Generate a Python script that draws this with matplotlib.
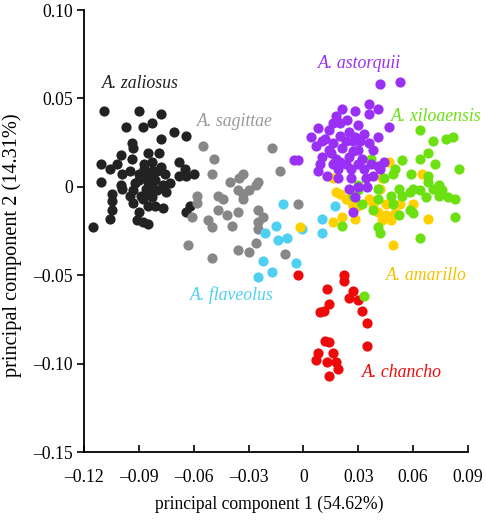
import matplotlib
matplotlib.use("Agg")
import matplotlib.pyplot as plt
from matplotlib.ticker import FixedLocator

plt.rcParams['font.family'] = ['Liberation Serif', 'DejaVu Serif']

# ---- data (PC1, PC2) per species ----
zaliosus_x = [-0.109, -0.090, -0.078, -0.097, -0.088, -0.083, -0.071, -0.064, -0.078, -0.094,
              -0.093, -0.100, -0.085, -0.079, -0.094, -0.068, -0.111, -0.102, -0.106, -0.087,
              -0.083, -0.088, -0.083, -0.080, -0.099, -0.090, -0.076, -0.065, -0.068, -0.060,
              -0.064, -0.111, -0.092, -0.085, -0.081, -0.073, -0.077, -0.083, -0.100, -0.086,
              -0.093, -0.075, -0.080, -0.105, -0.095, -0.089, -0.083, -0.088, -0.105, -0.093,
              -0.081, -0.077, -0.085, -0.105, -0.090, -0.062, -0.064, -0.106, -0.091, -0.085,
              -0.088, -0.115, -0.087, -0.084, -0.090, -0.078, -0.095, -0.085, -0.099]
zaliosus_y = [0.043, 0.043, 0.041, 0.034, 0.034, 0.036, 0.031, 0.029, 0.027, 0.025,
              0.022, 0.018, 0.019, 0.019, 0.016, 0.014, 0.013, 0.013, 0.010, 0.013,
              0.014, 0.007, 0.009, 0.009, 0.007, 0.007, 0.007, 0.010, 0.006, 0.007,
              0.006, 0.003, 0.002, 0.003, 0.004, 0.002, 0.001, 0.000, 0.001, -0.001,
              -0.002, -0.003, -0.002, -0.004, -0.005, -0.005, -0.006, -0.007, -0.008, -0.009,
              -0.011, -0.012, -0.011, -0.013, -0.014, -0.011, -0.014, -0.018, -0.019, -0.021,
              -0.020, -0.023, 0.010, 0.005, 0.004, 0.011, 0.009, -0.003, -0.001]

sagittae_x = [-0.055, -0.017, -0.049, -0.013, -0.050, -0.033, -0.035, -0.040, -0.025, -0.026,
              -0.036, -0.030, -0.033, -0.047, -0.058, -0.044, -0.058, -0.033, -0.047, -0.036,
              -0.025, -0.061, -0.042, -0.022, -0.052, -0.025, -0.039, -0.050, -0.025, -0.026,
              -0.063, -0.036, -0.030, -0.050, -0.003, -0.010]
sagittae_y = [0.023, 0.022, 0.016, 0.009, 0.007, 0.007, 0.005, 0.003, 0.003, 0.001,
              -0.002, -0.002, -0.004, -0.005, -0.005, -0.007, -0.009, -0.007, -0.013, -0.014,
              -0.013, -0.017, -0.016, -0.017, -0.019, -0.020, -0.022, -0.023, -0.024, -0.032,
              -0.033, -0.036, -0.037, -0.040, -0.010, -0.038]

flaveolus_x = [-0.011, -0.015, -0.021, -0.014, -0.009, -0.001, -0.022, -0.017, -0.025, -0.004,
               0.010, 0.017, 0.010]
flaveolus_y = [-0.010, -0.022, -0.026, -0.030, -0.029, -0.024, -0.042, -0.048, -0.051, -0.043,
               -0.018, -0.011, -0.026]

chancho_x = [-0.003, 0.022, 0.022, 0.013, 0.027, 0.025, 0.030, 0.014, 0.032, 0.011,
             0.009, 0.035, 0.012, 0.014, 0.035, 0.008, 0.016, 0.007, 0.013, 0.018,
             0.019, 0.014]
chancho_y = [-0.050, -0.050, -0.053, -0.058, -0.059, -0.063, -0.064, -0.066, -0.070, -0.070,
             -0.071, -0.077, -0.087, -0.088, -0.090, -0.094, -0.094, -0.098, -0.099, -0.099,
             -0.103, -0.107]

amarillo_x = [0.047, 0.016, 0.018, 0.020, 0.023, 0.026, 0.036, 0.038, 0.027, 0.045,
              0.053, 0.041, 0.045, 0.043, 0.048, 0.050, 0.060, 0.065, 0.068, 0.016,
              0.021, 0.028, 0.043, 0.042, -0.002, 0.049, 0.030]
amarillo_y = [0.014, 0.005, -0.003, -0.004, -0.007, -0.008, -0.007, -0.010, -0.011, -0.010,
              -0.010, -0.014, -0.016, -0.019, -0.019, -0.015, -0.010, 0.007, -0.018, -0.020,
              -0.017, -0.018, 0.005, -0.001, -0.023, -0.033, -0.011]

xiloaensis_x = [0.064, 0.071, 0.078, 0.082, 0.054, 0.068, 0.064, 0.072, 0.085, 0.050,
                0.049, 0.059, 0.068, 0.068, 0.044, 0.041, 0.052, 0.058, 0.060, 0.064,
                0.071, 0.074, 0.076, 0.048, 0.054, 0.067, 0.074, 0.079, 0.083, 0.041,
                0.049, 0.058, 0.060, 0.052, 0.083, 0.032, 0.021, 0.041, 0.042, 0.064,
                0.030, 0.030, 0.027, 0.038, 0.037, 0.033]
xiloaensis_y = [0.032, 0.026, 0.027, 0.028, 0.015, 0.019, 0.016, 0.013, 0.010, 0.010,
                0.007, 0.007, 0.006, 0.003, 0.005, -0.001, -0.001, -0.003, -0.001, -0.002,
                -0.001, 0.001, -0.002, -0.005, -0.005, -0.006, -0.005, -0.006, -0.007, -0.007,
                -0.010, -0.013, -0.015, -0.016, -0.017, -0.010, -0.022, -0.023, -0.026, -0.029,
                -0.002, 0.001, -0.005, -0.013, 0.016, -0.062]

astorquii_x = [0.042, 0.053, 0.036, 0.041, 0.036, 0.021, 0.028, 0.018, 0.024, 0.016,
               0.047, 0.030, 0.008, 0.025, 0.004, 0.012, 0.033, 0.041, 0.020, 0.016,
               0.027, 0.036, 0.007, 0.014, 0.021, 0.030, 0.038, 0.010, 0.018, 0.025,
               0.032, -0.005, -0.003, 0.009, 0.016, 0.023, 0.030, 0.037, 0.041, 0.008,
               0.019, 0.026, 0.033, 0.019, 0.026, 0.034, 0.025, 0.035, 0.028, 0.027,
               0.042, 0.044, 0.014, 0.020, 0.028, 0.010, 0.023, 0.031, 0.015, 0.027,
               0.020, 0.013, 0.038, 0.030]
astorquii_y = [0.058, 0.059, 0.047, 0.044, 0.041, 0.044, 0.043, 0.040, 0.038, 0.036,
               0.034, 0.035, 0.033, 0.031, 0.028, 0.027, 0.030, 0.028, 0.029, 0.025,
               0.026, 0.025, 0.023, 0.021, 0.022, 0.021, 0.021, 0.017, 0.016, 0.017,
               0.016, 0.015, 0.015, 0.013, 0.013, 0.013, 0.013, 0.013, 0.012, 0.009,
               0.010, 0.010, 0.010, 0.005, 0.005, 0.005, -0.001, 0.000, -0.006, -0.014,
               0.010, 0.014, 0.032, 0.036, 0.028, 0.026, 0.026, 0.026, 0.019, 0.020,
               0.014, 0.006, 0.006, 0.000]

labels = ['A. zaliosus', 'A. sagittae', 'A. astorquii', 'A. xiloaensis',
          'A. amarillo', 'A. flaveolus', 'A. chancho']
x_ticks = [-0.12, -0.09, -0.06, -0.03, 0, 0.03, 0.06, 0.09]
x_ticklabels = ['\u20130.12', '\u20130.09', '\u20130.06', '\u20130.03', '0', '0.03', '0.06', '0.09']
y_ticks = [-0.15, -0.10, -0.05, 0, 0.05, 0.10]
y_ticklabels = ['\u20130.15', '\u20130.10', '\u20130.05', '0', '0.05', '0.10']

c_black = '#222222'
c_gray = '#878787'
c_cyan = '#4fd0f2'
c_red = '#ee0a0a'
c_yellow = '#ffd000'
c_green = '#6ce010'
c_purple = '#9a30f5'

fig = plt.figure(figsize=(4.86, 5.21), dpi=100)
ax = fig.add_axes([0.173, 0.1324, 0.79, 0.8484])

ms = 54
ax.scatter(zaliosus_x, zaliosus_y, s=ms, c=c_black, linewidths=0, zorder=3)
ax.scatter(sagittae_x, sagittae_y, s=ms, c=c_gray, linewidths=0, zorder=3)
ax.scatter(flaveolus_x, flaveolus_y, s=ms, c=c_cyan, linewidths=0, zorder=3)
ax.scatter(chancho_x, chancho_y, s=ms, c=c_red, linewidths=0, zorder=3)
ax.scatter(amarillo_x, amarillo_y, s=ms, c=c_yellow, linewidths=0, zorder=3)
ax.scatter(xiloaensis_x, xiloaensis_y, s=ms, c=c_green, linewidths=0, zorder=3)
ax.scatter(astorquii_x, astorquii_y, s=ms, c=c_purple, linewidths=0, zorder=3)

lab_fs = 12.8
lab_pos = [(-0.110, 0.0587), (-0.058, 0.037), (0.008, 0.070), (0.048, 0.040),
           (0.045, -0.050), (-0.062, -0.061), (0.032, -0.105)]
lab_col = [c_black, '#999999', c_purple, c_green, '#f2c200', c_cyan, c_red]
for t, (lx, ly), col in zip(labels, lab_pos, lab_col):
    ax.text(lx, ly, t, color=col, fontsize=lab_fs, style='italic', ha='left', va='center')

ax.set_xlim(-0.12, 0.09)
ax.set_ylim(-0.15, 0.10)
ax.xaxis.set_major_locator(FixedLocator(x_ticks))
ax.set_xticklabels(x_ticklabels)
ax.yaxis.set_major_locator(FixedLocator(y_ticks))
ax.set_yticklabels(y_ticklabels)

for s in ['top', 'right']:
    ax.spines[s].set_visible(False)
for s in ['left', 'bottom']:
    ax.spines[s].set_linewidth(1.3)
    ax.spines[s].set_color('black')

ax.tick_params(axis='x', direction='in', length=5, width=1.2, labelsize=12.7, pad=12)
ax.tick_params(axis='y', direction='out', length=5, width=1.2, labelsize=12.7, pad=3)

ax.set_xlabel('principal component 1 (54.62%)', fontsize=12.7, va='center', ha='center')
ax.xaxis.set_label_coords(0.482, -0.118)
ax.set_ylabel('principal component 2 (14.31%)', fontsize=14.6, va='center', ha='center')
ax.yaxis.set_label_coords(-0.1875, 0.468)

fig.savefig('out.png', dpi=100)
